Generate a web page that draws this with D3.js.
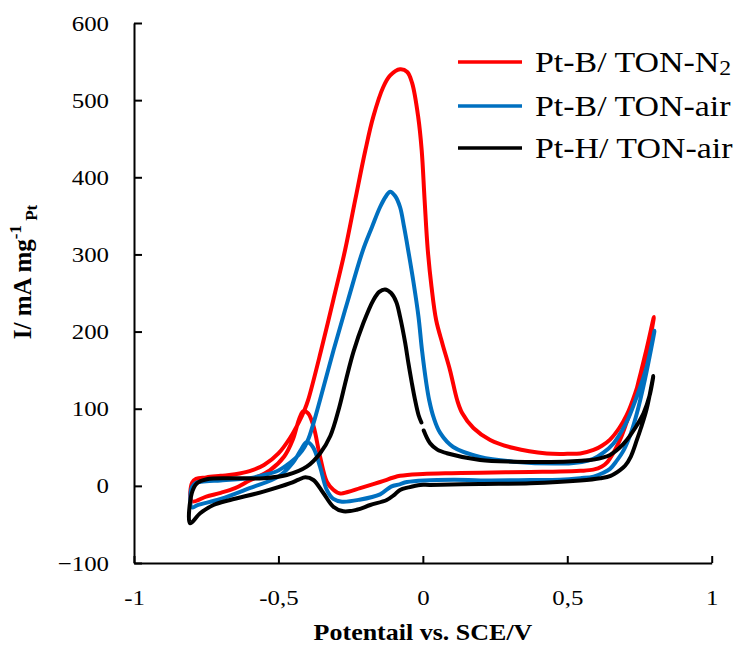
<!DOCTYPE html>
<html>
<head>
<meta charset="utf-8">
<script src="https://cdn.jsdelivr.net/npm/d3@7"></script>
<style>
  html, body { margin: 0; padding: 0; background: #fff; }
  svg { display: block; }
  text { font-family: "Liberation Serif", "Times New Roman", serif; fill: #000; }
</style>
</head>
<body>
<svg id="chart" width="755" height="645"></svg>
<script>
// ---------- data ----------
const seriesNames = ["Pt-B/ TON-N2", "Pt-B/ TON-air", "Pt-H/ TON-air"];
const seriesColors = ["#ff0000", "#0070c0", "#000000"];
const xTicks = [-1, -0.5, 0, 0.5, 1];
const yTicks = [-100, 0, 100, 200, 300, 400, 500, 600];

// [potential (V), current (mA/mg)] around each voltammogram
const ptbN2 = [
  [-0.8, -20], [-0.799, 4], [-0.785, 9], [-0.75, 11], [-0.7, 13], [-0.65, 15], [-0.6, 19], [-0.55, 27],
  [-0.5, 42], [-0.46, 62], [-0.43, 82], [-0.41, 98], [-0.397, 111.4], [-0.352, 176], [-0.31, 241],
  [-0.269, 306], [-0.234, 371], [-0.199, 435], [-0.172, 478], [-0.137, 517], [-0.113, 532], [-0.079, 540],
  [-0.054, 536.5], [-0.037, 522], [-0.016, 478], [-0.004, 435], [0.006, 371], [0.017, 306], [0.03, 258],
  [0.046, 215], [0.068, 184], [0.094, 150], [0.119, 111], [0.136, 94.5], [0.175, 75], [0.233, 59.5],
  [0.314, 49], [0.429, 42], [0.5, 41.5], [0.545, 42], [0.591, 46.5], [0.62, 52], [0.648, 60], [0.68, 75],
  [0.706, 92], [0.735, 120], [0.764, 156], [0.785, 188], [0.8, 219],
  [0.775, 178], [0.75, 140], [0.724, 103], [0.705, 82], [0.683, 60], [0.66, 43], [0.637, 30], [0.62, 25],
  [0.59, 21], [0.545, 19.5], [0.475, 18.5], [0.372, 18], [0.2, 17], [0.1, 16.5], [0, 15.5], [-0.079, 13],
  [-0.148, 5], [-0.217, -3], [-0.26, -8], [-0.286, -10], [-0.31, -5], [-0.332, 5], [-0.356, 38],
  [-0.379, 78], [-0.397, 94], [-0.413, 97], [-0.427, 88], [-0.45, 60], [-0.48, 38], [-0.53, 20], [-0.6, 7],
  [-0.65, -3], [-0.7, -9], [-0.75, -14]
];

const ptbAir = [
  [-0.8, -28], [-0.8, -2], [-0.785, 4], [-0.75, 6], [-0.7, 7], [-0.6, 10], [-0.55, 14], [-0.5, 20],
  [-0.46, 30], [-0.43, 40], [-0.41, 50], [-0.395, 62], [-0.378, 82], [-0.356, 111.4], [-0.309, 176],
  [-0.259, 241], [-0.207, 306], [-0.176, 335.6], [-0.148, 361.5], [-0.127, 375.8], [-0.113, 381.4],
  [-0.096, 375.8], [-0.079, 361.5], [-0.065, 335.6], [-0.051, 306], [-0.032, 263], [-0.015, 219],
  [-0.003, 176], [0.012, 133], [0.022, 111], [0.037, 89], [0.06, 68.6], [0.105, 50.4], [0.198, 37.5],
  [0.314, 31.4], [0.487, 29], [0.55, 31], [0.59, 35], [0.625, 43], [0.66, 55], [0.69, 72], [0.712, 88],
  [0.74, 115], [0.775, 154.5], [0.802, 201],
  [0.77, 140], [0.741, 94], [0.72, 68], [0.695, 46], [0.67, 32], [0.648, 22], [0.625, 17], [0.591, 12],
  [0.545, 10], [0.475, 8], [0.372, 7.5], [0.2, 7], [0.106, 8], [-0.055, 5], [-0.08, 2], [-0.11, -1],
  [-0.148, -11], [-0.22, -18], [-0.28, -20.5], [-0.31, -17], [-0.333, -5], [-0.356, 25], [-0.38, 50],
  [-0.402, 57], [-0.42, 48], [-0.45, 30], [-0.5, 12], [-0.6, -3], [-0.7, -17], [-0.78, -25]
];

// open loop: the recorded scan starts and ends near 0 V (visible gap)
const pthAir = [
  [0.003, 71.8], [0.025, 55.2], [0.05, 47], [0.083, 42.3], [0.198, 33.6], [0.314, 31.4], [0.487, 31.4],
  [0.55, 32.5], [0.591, 34], [0.648, 40], [0.68, 49], [0.706, 59.5], [0.735, 75], [0.764, 94],
  [0.785, 117], [0.798, 142.5],
  [0.775, 100], [0.755, 75], [0.741, 59.5], [0.72, 38], [0.7, 26], [0.683, 20.6], [0.65, 13], [0.614, 9.9],
  [0.545, 7], [0.372, 3.4], [0.198, 2.5], [0.025, 1.2], [-0.009, 1.2], [-0.05, -2], [-0.079, -5.3],
  [-0.1, -12], [-0.125, -18.3], [-0.182, -24.8], [-0.229, -31], [-0.275, -33], [-0.31, -27],
  [-0.344, -9.6], [-0.379, 7.6], [-0.407, 11], [-0.43, 8], [-0.459, 3.4], [-0.552, -7.5], [-0.667, -18.3],
  [-0.725, -24.8], [-0.771, -35.5], [-0.806, -48.5],
  [-0.8, -9.6], [-0.782, 3.4], [-0.748, 8.6], [-0.667, 9.9], [-0.552, 9.9], [-0.471, 14.1], [-0.402, 24.9],
  [-0.356, 42], [-0.32, 65], [-0.29, 101], [-0.265, 139], [-0.24, 174], [-0.206, 211],
  [-0.171, 241], [-0.151, 251.4], [-0.131, 254.6], [-0.11, 250], [-0.092, 238.4], [-0.079, 219.3],
  [-0.061, 184.9], [-0.05, 159], [-0.038, 133], [-0.027, 111.4], [-0.015, 91.9], [-0.005, 82.2]
];

const seriesData = [ptbN2, ptbAir, pthAir];
const seriesClosed = [true, true, false];

// ---------- drawing ----------
const svg = d3.select("#chart");
const x = d3.scaleLinear().domain([-1, 1]).range([134, 711.7]);
const y = d3.scaleLinear().domain([-100, 600]).range([563, 23]);
const STRETCH = 1.13;

function stretch(sel) {
  sel.each(function () {
    const l = this.getComputedTextLength();
    d3.select(this).attr("textLength", l * STRETCH).attr("lengthAdjust", "spacingAndGlyphs");
  });
}

const fmt = d => String(d).replace(".", ",");

// x axis
const gx = svg.append("g").attr("transform", `translate(0,${y(-100)})`)
  .call(d3.axisBottom(x).tickValues(xTicks).tickFormat(fmt).tickSizeInner(-7).tickSizeOuter(0).tickPadding(26));
// y axis
const gy = svg.append("g").attr("transform", `translate(${x(-1)},0)`)
  .call(d3.axisLeft(y).tickValues(yTicks).tickSizeInner(-8).tickSizeOuter(0).tickPadding(25));

[gx, gy].forEach(g => {
  g.select(".domain").attr("stroke", "#000").attr("stroke-width", 2);
  g.selectAll(".tick line").attr("stroke", "#000").attr("stroke-width", 2);
  g.selectAll(".tick text").attr("font-family", "Liberation Serif").attr("font-size", 22).attr("fill", "#000");
});
gx.selectAll(".tick text").call(stretch);
gy.selectAll(".tick text").call(stretch);

// curves
seriesData.forEach((d, k) => {
  const line = d3.line()
    .x(p => x(p[0])).y(p => y(p[1]))
    .curve(seriesClosed[k] ? d3.curveCatmullRomClosed.alpha(0.5) : d3.curveCatmullRom.alpha(0.5));
  svg.append("path")
    .datum(d)
    .attr("d", line)
    .attr("fill", "none")
    .attr("stroke", seriesColors[k])
    .attr("stroke-width", 4)
    .attr("stroke-linejoin", "round")
    .attr("stroke-linecap", "round");
});

// axis titles
const xt = svg.append("text")
  .attr("x", 423).attr("y", 640)
  .attr("text-anchor", "middle")
  .attr("font-weight", "bold").attr("font-size", 23)
  .text("Potentail vs. SCE/V");
xt.call(stretch);

const yt = svg.append("text")
  .attr("transform", "translate(31,272) rotate(-90)")
  .attr("text-anchor", "middle")
  .attr("font-weight", "bold").attr("font-size", 25);
yt.append("tspan").text("I/ mA mg");
yt.append("tspan").attr("font-size", 17).attr("dy", -10).text("-1");
yt.append("tspan").attr("font-size", 17).attr("dy", 16).text(" Pt");

// legend
const legendY = [62, 106, 148];
seriesNames.forEach((name, k) => {
  svg.append("line")
    .attr("x1", 458).attr("x2", 522)
    .attr("y1", legendY[k]).attr("y2", legendY[k])
    .attr("stroke", seriesColors[k]).attr("stroke-width", 3.5);
  const t = svg.append("text")
    .attr("x", 535).attr("y", legendY[k] + 10)
    .attr("font-size", 30);
  if (name.endsWith("N2")) {
    t.append("tspan").text(name.slice(0, -1));
    t.append("tspan").attr("font-size", 21).attr("dy", 3).text("2");
  } else {
    t.text(name);
  }
  t.call(stretch);
});
</script>
</body>
</html>
